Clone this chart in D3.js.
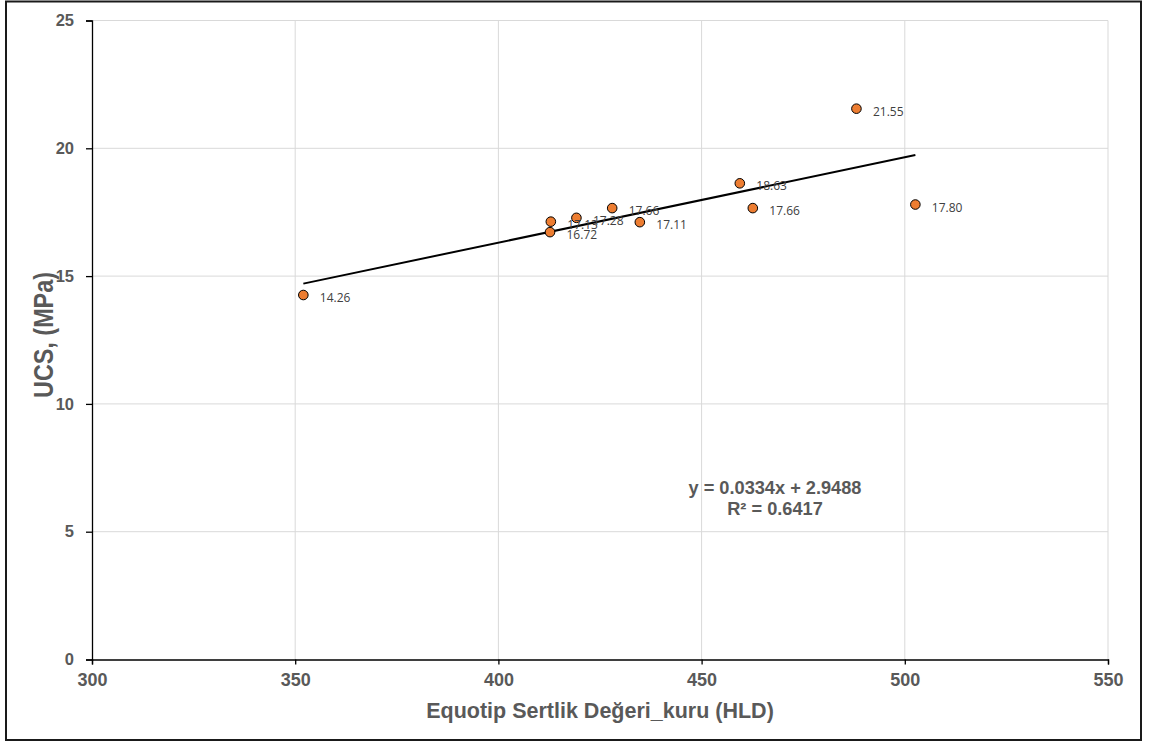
<!DOCTYPE html>
<html>
<head>
<meta charset="utf-8">
<script src="https://cdn.jsdelivr.net/npm/d3@7"></script>
<style>
  body { margin: 0; background: #fff; }
  text { font-family: "Liberation Sans", Arial, sans-serif; }
</style>
</head>
<body>
<div id="container"></div>
<script>
// data
var hld = [352.0, 412.9, 412.7, 419.2, 428.0, 434.8, 459.4, 462.6, 488.1, 502.6];
var ucs = [14.26, 17.13, 16.72, 17.28, 17.66, 17.11, 18.63, 17.66, 21.55, 17.80];
var xTicks = [300, 350, 400, 450, 500, 550];
var yTicks = [0, 5, 10, 15, 20, 25];
var slope = 0.0334, intercept = 2.9488, r2 = 0.6417;

var W = 1149, H = 744;
var svg = d3.select("#container").append("svg")
  .attr("width", W).attr("height", H);

// outer frame
svg.append("rect").attr("x", 6).attr("y", 1.5).attr("width", 1135).attr("height", 738.5)
  .attr("fill", "#fff").attr("stroke", "#1a1a1a").attr("stroke-width", 2);

var x = d3.scaleLinear().domain([300, 550]).range([92, 1108]);
var y = d3.scaleLinear().domain([0, 25]).range([659.5, 20.5]);

// grid
svg.append("g").selectAll("line").data(xTicks.slice(1)).enter().append("line")
  .attr("x1", d => x(d)).attr("x2", d => x(d))
  .attr("y1", y(0)).attr("y2", y(25))
  .attr("stroke", "#d9d9d9").attr("stroke-width", 1);
svg.append("g").selectAll("line").data(yTicks.slice(1)).enter().append("line")
  .attr("x1", x(300)).attr("x2", x(550))
  .attr("y1", d => y(d)).attr("y2", d => y(d))
  .attr("stroke", "#d9d9d9").attr("stroke-width", 1);

// axes
var xAxis = svg.append("g").attr("transform", "translate(0," + y(0) + ")")
  .call(d3.axisBottom(x).tickValues(xTicks).tickSize(5).tickPadding(9));
var yAxis = svg.append("g").attr("transform", "translate(" + x(300) + ",0)")
  .call(d3.axisLeft(y).tickValues(yTicks).tickSize(6).tickPadding(12));
[xAxis, yAxis].forEach(function (g) {
  g.select(".domain").attr("stroke", "#000").attr("stroke-width", 1.3);
  g.selectAll(".tick line").attr("stroke", "#000").attr("stroke-width", 1.3);
  g.selectAll(".tick text").attr("fill", "#595959")
    .style("font-weight", "bold")
    .style("font-family", "Liberation Sans, Arial, sans-serif");
});
xAxis.selectAll(".tick text").style("font-size", "18px");
yAxis.selectAll(".tick text").style("font-size", "16.5px");

// trend line
var xmin = d3.min(hld), xmax = d3.max(hld);
svg.append("line")
  .attr("x1", x(xmin)).attr("y1", y(slope * xmin + intercept))
  .attr("x2", x(xmax)).attr("y2", y(slope * xmax + intercept))
  .attr("stroke", "#000").attr("stroke-width", 2);

// points
var pts = hld.map((d, i) => ({ x: d, y: ucs[i] }));
svg.append("g").selectAll("circle").data(pts).enter().append("circle")
  .attr("cx", d => x(d.x)).attr("cy", d => y(d.y)).attr("r", 4.8)
  .attr("fill", "#ED7D31").attr("stroke", "#000").attr("stroke-width", 1);

// data labels
svg.append("g").selectAll("text").data(pts).enter().append("text")
  .attr("x", d => x(d.x) + 16.5).attr("y", d => y(d.y) + 7)
  .attr("fill", "#404040").style("font-size", "12px")
  .style("font-family", "'Open Sans', sans-serif")
  .text(d => d.y.toFixed(2));

// equation
var eq = svg.append("g").attr("fill", "#595959")
  .style("font-size", "18.2px").style("font-weight", "bold");
eq.append("text").attr("x", 775).attr("y", 493.5).attr("text-anchor", "middle")
  .text("y = " + slope.toFixed(4) + "x + " + intercept.toFixed(4));
eq.append("text").attr("x", 775).attr("y", 515).attr("text-anchor", "middle")
  .text("R\u00b2 = " + r2.toFixed(4));

// axis titles
svg.append("text").attr("x", 600).attr("y", 717.5).attr("text-anchor", "middle")
  .attr("fill", "#595959").style("font-size", "21.5px").style("font-weight", "bold")
  .text("Equotip Sertlik Değeri_kuru (HLD)");
svg.append("text").attr("transform", "translate(53,335) rotate(-90) scale(1,1.2)")
  .attr("text-anchor", "middle")
  .attr("fill", "#595959").style("font-size", "23.4px").style("font-weight", "bold")
  .text("UCS, (MPa)");
</script>
</body>
</html>
